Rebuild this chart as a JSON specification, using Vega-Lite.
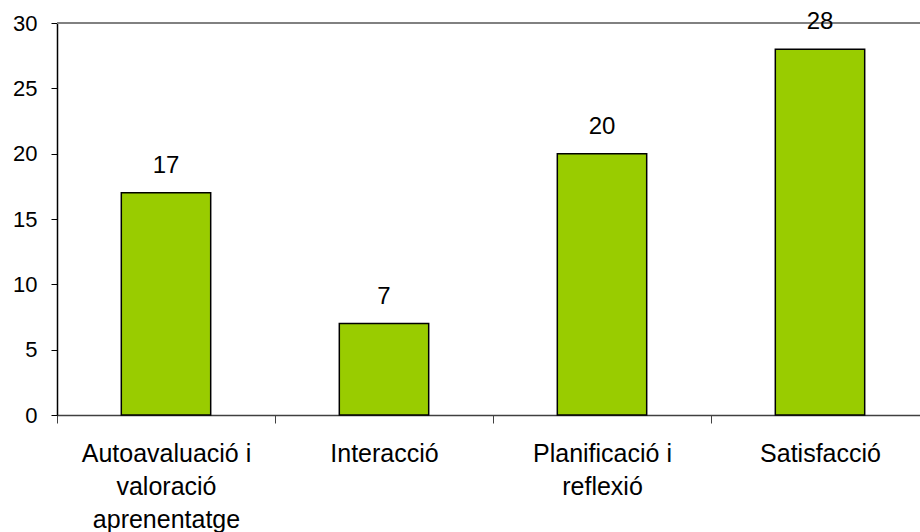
{
  "$schema": "https://vega.github.io/schema/vega-lite/v6.json",
  "width": 863,
  "height": 392,
  "autosize": "none",
  "padding": {"left": 57, "top": 23, "right": 0, "bottom": 117},
  "background": "white",
  "config": {"view": {"stroke": null}, "font": "Liberation Sans"},
  "data": {
    "values": [
      {"categoria": "Autoavaluació i|valoració|aprenentatge", "valor": 17},
      {"categoria": "Interacció", "valor": 7},
      {"categoria": "Planificació i|reflexió", "valor": 20},
      {"categoria": "Satisfacció", "valor": 28}
    ]
  },
  "encoding": {
    "x": {
      "field": "categoria",
      "type": "nominal",
      "sort": null,
      "scale": {"paddingInner": 0, "paddingOuter": 0, "range": [0, 872]},
      "axis": {
        "title": null,
        "labelAngle": 0,
        "tickBand": "extent",
        "tickSize": 8,
        "tickColor": "#404040",
        "domainColor": "#404040",
        "domainWidth": 1.5,
        "labelPadding": 18,
        "labelFontSize": 25,
        "labelColor": "black",
        "labelLineHeight": 33,
        "labelLimit": 0,
        "labelOverlap": false,
        "labelExpr": "split(datum.label, '|')"
      }
    }
  },
  "layer": [
    {
      "mark": {"type": "rule", "color": "#808080", "strokeWidth": 1.5},
      "encoding": {"y": {"datum": 30, "type": "quantitative"}, "x": null}
    },
    {
      "mark": {"type": "bar", "width": {"band": 0.41}, "fill": "#99CC00", "stroke": "black", "strokeWidth": 1.5},
      "encoding": {
        "y": {
          "field": "valor",
          "type": "quantitative",
          "scale": {"domain": [0, 30], "nice": false},
          "axis": {
            "title": null,
            "values": [0, 5, 10, 15, 20, 25, 30],
            "grid": false,
            "tickSize": 6,
            "tickColor": "black",
            "domainColor": "black",
            "domainWidth": 1.5,
            "labelFontSize": 22,
            "labelColor": "black",
            "labelPadding": 14
          }
        }
      }
    },
    {
      "mark": {"type": "text", "dy": -20, "baseline": "alphabetic", "fontSize": 24, "color": "black"},
      "encoding": {
        "y": {"field": "valor", "type": "quantitative"},
        "text": {"field": "valor", "type": "quantitative"}
      }
    }
  ]
}
